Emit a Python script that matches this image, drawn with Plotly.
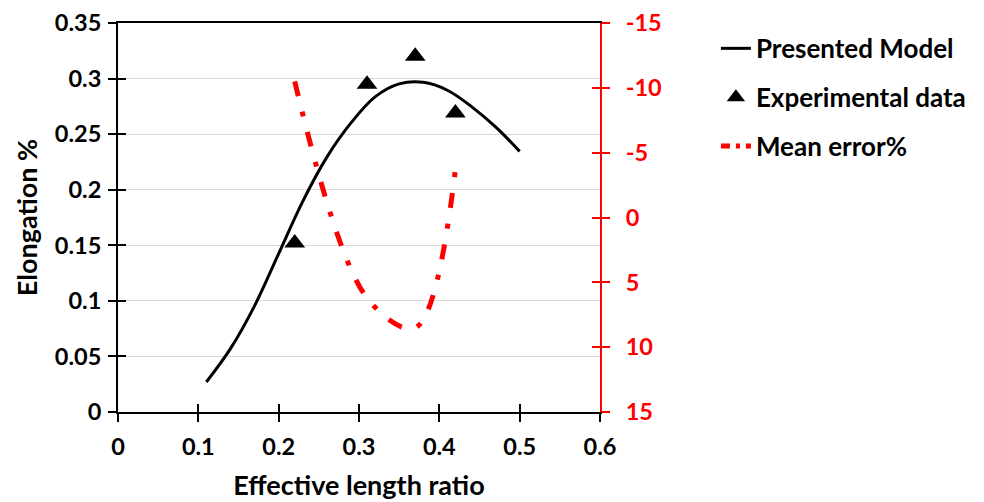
import plotly.graph_objects as go

# ---- data ----
model_x = [0.11, 0.14, 0.17, 0.20, 0.23, 0.26, 0.29, 0.32, 0.35, 0.38, 0.41, 0.44, 0.47, 0.50]
model_y = [0.027, 0.057, 0.0955, 0.1425, 0.1895, 0.2293, 0.2601, 0.2835, 0.2952, 0.2966,
           0.2895, 0.2748, 0.2565, 0.2345]

exp_x = [0.22, 0.31, 0.37, 0.42]
exp_y = [0.152, 0.295, 0.320, 0.269]

err_x = [0.22, 0.31, 0.37, 0.42]
err_y = [-10.5, 6.2, 8.5, -3.7]

x_ticks = [0, 0.1, 0.2, 0.3, 0.4, 0.5, 0.6]
y_ticks = [0, 0.05, 0.1, 0.15, 0.2, 0.25, 0.3, 0.35]
y2_ticks = [-15, -10, -5, 0, 5, 10, 15]
y2_labels = ["-15", "-10", "-5", "0", "5", "10", "15"]

FONT = "Lato"
RED = "#ff0000"

fig = go.Figure()

fig.add_trace(go.Scatter(
    x=model_x, y=model_y, mode="lines", name="Presented Model",
    line=dict(color="black", width=3, shape="spline", smoothing=1.0),
    legendgroup="a",
))
fig.add_trace(go.Scatter(
    x=exp_x, y=exp_y, mode="markers", name="Experimental data",
    marker=dict(symbol="triangle-up", size=18, color="black"),
    legendgroup="b",
))
fig.add_trace(go.Scatter(
    x=err_x, y=err_y, mode="lines", name="Mean error%", yaxis="y2",
    line=dict(color=RED, width=5, shape="spline", smoothing=1.0,
              dash="15px,16px,5px,16px"),
    legendgroup="c", showlegend=False,
))
# legend entry for the error line (compressed dash pattern to fit the legend sample)
fig.add_trace(go.Scatter(
    x=[None], y=[None], mode="lines", name="Mean error%", yaxis="y2",
    line=dict(color=RED, width=5, dash="9px,6px,4px,6px"),
    legendgroup="c", hoverinfo="skip",
))
# invisible traces to activate the overlay (inner tick) axes
fig.add_trace(go.Scatter(x=[None], y=[None], xaxis="x3", yaxis="y3",
                         showlegend=False, hoverinfo="skip"))
fig.add_trace(go.Scatter(x=[None], y=[None], xaxis="x", yaxis="y4",
                         showlegend=False, hoverinfo="skip"))

tickfont = dict(family=FONT, size=23.5, color="black", weight="bold")
titlefont = dict(family=FONT, size=27, color="black", weight="bold")

fig.update_layout(
    width=984, height=502,
    margin=dict(l=110, r=392, t=15, b=98, autoexpand=False),
    paper_bgcolor="white", plot_bgcolor="white",
    font=dict(family=FONT, size=21, color="black", weight="bold"),
    showlegend=True,
    legend=dict(
        x=1.2405, y=0.995, xanchor="left", yanchor="top",
        font=dict(family=FONT, size=26, color="black", weight="bold"),
        tracegroupgap=12, bgcolor="rgba(0,0,0,0)",
    ),
    xaxis=dict(
        range=[0, 0.6], tickvals=x_ticks, ticktext=[str(v) for v in x_ticks],
        showline=True, linecolor="black", linewidth=2, mirror=True,
        ticks="outside", ticklen=8, tickwidth=2, tickcolor="black",
        showgrid=False, zeroline=False, tickfont=tickfont,
        ticklabelstandoff=5, automargin=False, ticklabeloverflow="allow",
        title=dict(text="Effective length ratio", standoff=17, font=titlefont),
    ),
    yaxis=dict(
        range=[0, 0.35], tickvals=y_ticks, ticktext=[str(v) for v in y_ticks],
        showline=True, linecolor="black", linewidth=2,
        ticks="outside", ticklen=8, tickwidth=2, tickcolor="black",
        showgrid=True, gridcolor="#d9d9d9", gridwidth=1.3, zeroline=False,
        tickfont=tickfont, ticklabelstandoff=2, automargin=False,
        ticklabeloverflow="allow",
        title=dict(text="Elongation %", standoff=9, font=titlefont),
    ),
    yaxis2=dict(
        overlaying="y", side="right", anchor="x",
        range=[15, -15], tickvals=y2_ticks, ticktext=y2_labels,
        showline=True, linecolor=RED, linewidth=2,
        ticks="outside", ticklen=8, tickwidth=2, tickcolor=RED,
        showgrid=False, zeroline=False, automargin=False,
        tickfont=dict(family=FONT, size=23.5, color=RED, weight="bold"),
        ticklabelstandoff=11, ticklabeloverflow="allow",
    ),
    xaxis3=dict(
        overlaying="x", anchor="y3", range=[0, 0.6], tickvals=x_ticks,
        showticklabels=False, ticks="inside", ticklen=8, tickwidth=2,
        tickcolor="black", showline=False, showgrid=False, zeroline=False,
        automargin=False,
    ),
    yaxis3=dict(
        overlaying="y", anchor="x3", range=[0, 0.35], tickvals=y_ticks,
        showticklabels=False, ticks="inside", ticklen=8, tickwidth=2,
        tickcolor="black", showline=False, showgrid=False, zeroline=False,
        automargin=False,
    ),
    yaxis4=dict(
        overlaying="y", side="right", anchor="x", range=[15, -15],
        tickvals=y2_ticks, showticklabels=False, ticks="inside", ticklen=8,
        tickwidth=2, tickcolor=RED, showline=False, showgrid=False,
        zeroline=False, automargin=False,
    ),
)

fig.write_html("out.html")
